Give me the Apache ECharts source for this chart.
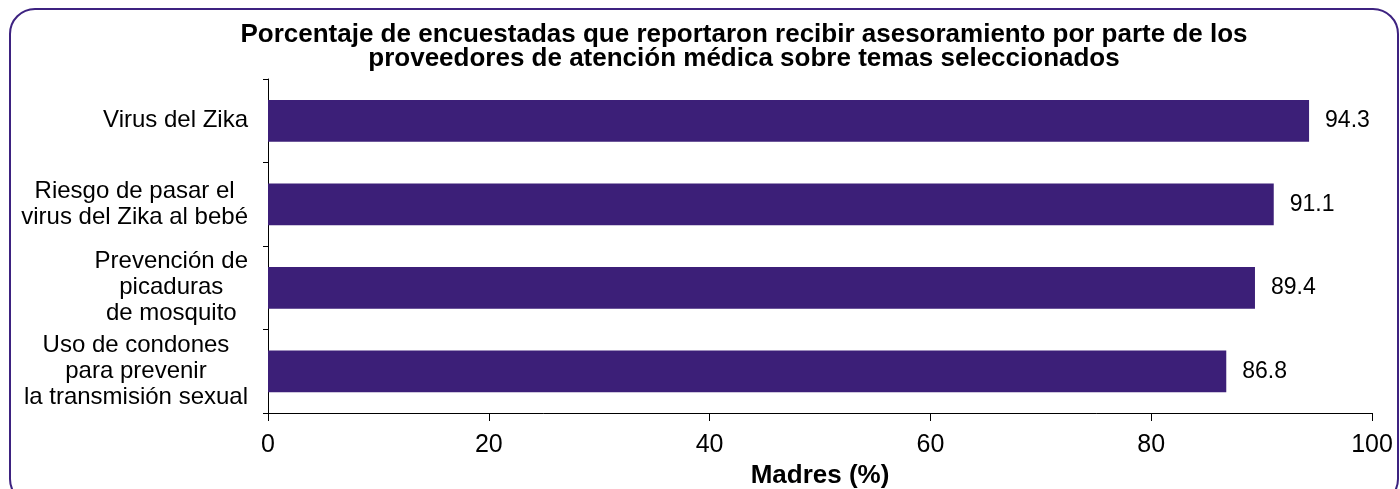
<!DOCTYPE html>
<html>
<head>
<meta charset="utf-8">
<script src="https://cdn.jsdelivr.net/npm/echarts@6/dist/echarts.min.js"></script>
<style>
  html, body { margin: 0; padding: 0; background: #fff; }
  #chart { width: 1400px; height: 489px; }
</style>
</head>
<body>
<div id="chart"></div>
<script>
const titleText = 'Porcentaje de encuestadas que reportaron recibir asesoramiento por parte de los\nproveedores de atención médica sobre temas seleccionados';
const categories = [
  'Virus del Zika',
  'Riesgo de pasar el\nvirus del Zika al bebé',
  'Prevención de\npicaduras\nde mosquito',
  'Uso de condones\npara prevenir\nla transmisión sexual'
];
const values = [94.3, 91.1, 89.4, 86.8];
const xTicks = { min: 0, max: 100, interval: 20 };
const xName = 'Madres (%)';

const FONT = '"Liberation Sans", "DejaVu Sans", sans-serif';
const chart = echarts.init(document.getElementById('chart'), null, { renderer: 'canvas' });

chart.setOption({
  animation: false,
  backgroundColor: '#ffffff',
  textStyle: { fontFamily: FONT },
  title: {
    text: titleText,
    left: 739,
    textAlign: 'center',
    top: 18,
    textStyle: { fontFamily: FONT, fontSize: 26, fontWeight: 'bold', color: '#000', lineHeight: 24 }
  },
  graphic: [{
    type: 'rect',
    shape: { x: 10, y: 9, width: 1388, height: 495, r: 25 },
    style: { fill: 'none', stroke: '#3d2280', lineWidth: 2 },
    silent: true
  }],
  grid: { left: 268, right: 28, top: 79, bottom: 76, containLabel: false, outerBoundsMode: 'none' },
  xAxis: {
    type: 'value',
    min: xTicks.min, max: xTicks.max, interval: xTicks.interval,
    name: xName,
    nameLocation: 'middle',
    nameGap: 50,
    nameTextStyle: { fontFamily: FONT, fontSize: 26, fontWeight: 'bold', color: '#000' },
    axisLine: { show: true, lineStyle: { color: '#000', width: 1 } },
    axisTick: { show: true, length: 8, lineStyle: { color: '#000' } },
    axisLabel: { fontFamily: FONT, fontSize: 25, color: '#000', margin: 20 },
    splitLine: { show: false }
  },
  yAxis: {
    type: 'category',
    data: categories,
    inverse: true,
    axisLine: { show: true, lineStyle: { color: '#000', width: 1 } },
    axisTick: { show: true, length: 5, lineStyle: { color: '#000' } },
    axisLabel: {
      margin: 20,
      align: 'right',
      formatter: function (v) {
        return v.split('\n').map(function (l) { return '{c|' + l + '}'; }).join('\n');
      },
      rich: {
        c: { fontFamily: FONT, fontSize: 24, color: '#000', align: 'center', lineHeight: 26 }
      }
    }
  },
  series: [{
    type: 'bar',
    data: values,
    barCategoryGap: '50%',
    itemStyle: { color: '#3c1f78' },
    label: {
      show: true,
      position: 'right',
      distance: 16,
      formatter: function (p) { return p.value.toFixed(1); },
      fontFamily: FONT,
      fontSize: 23,
      color: '#000'
    }
  }]
});
</script>
</body>
</html>
